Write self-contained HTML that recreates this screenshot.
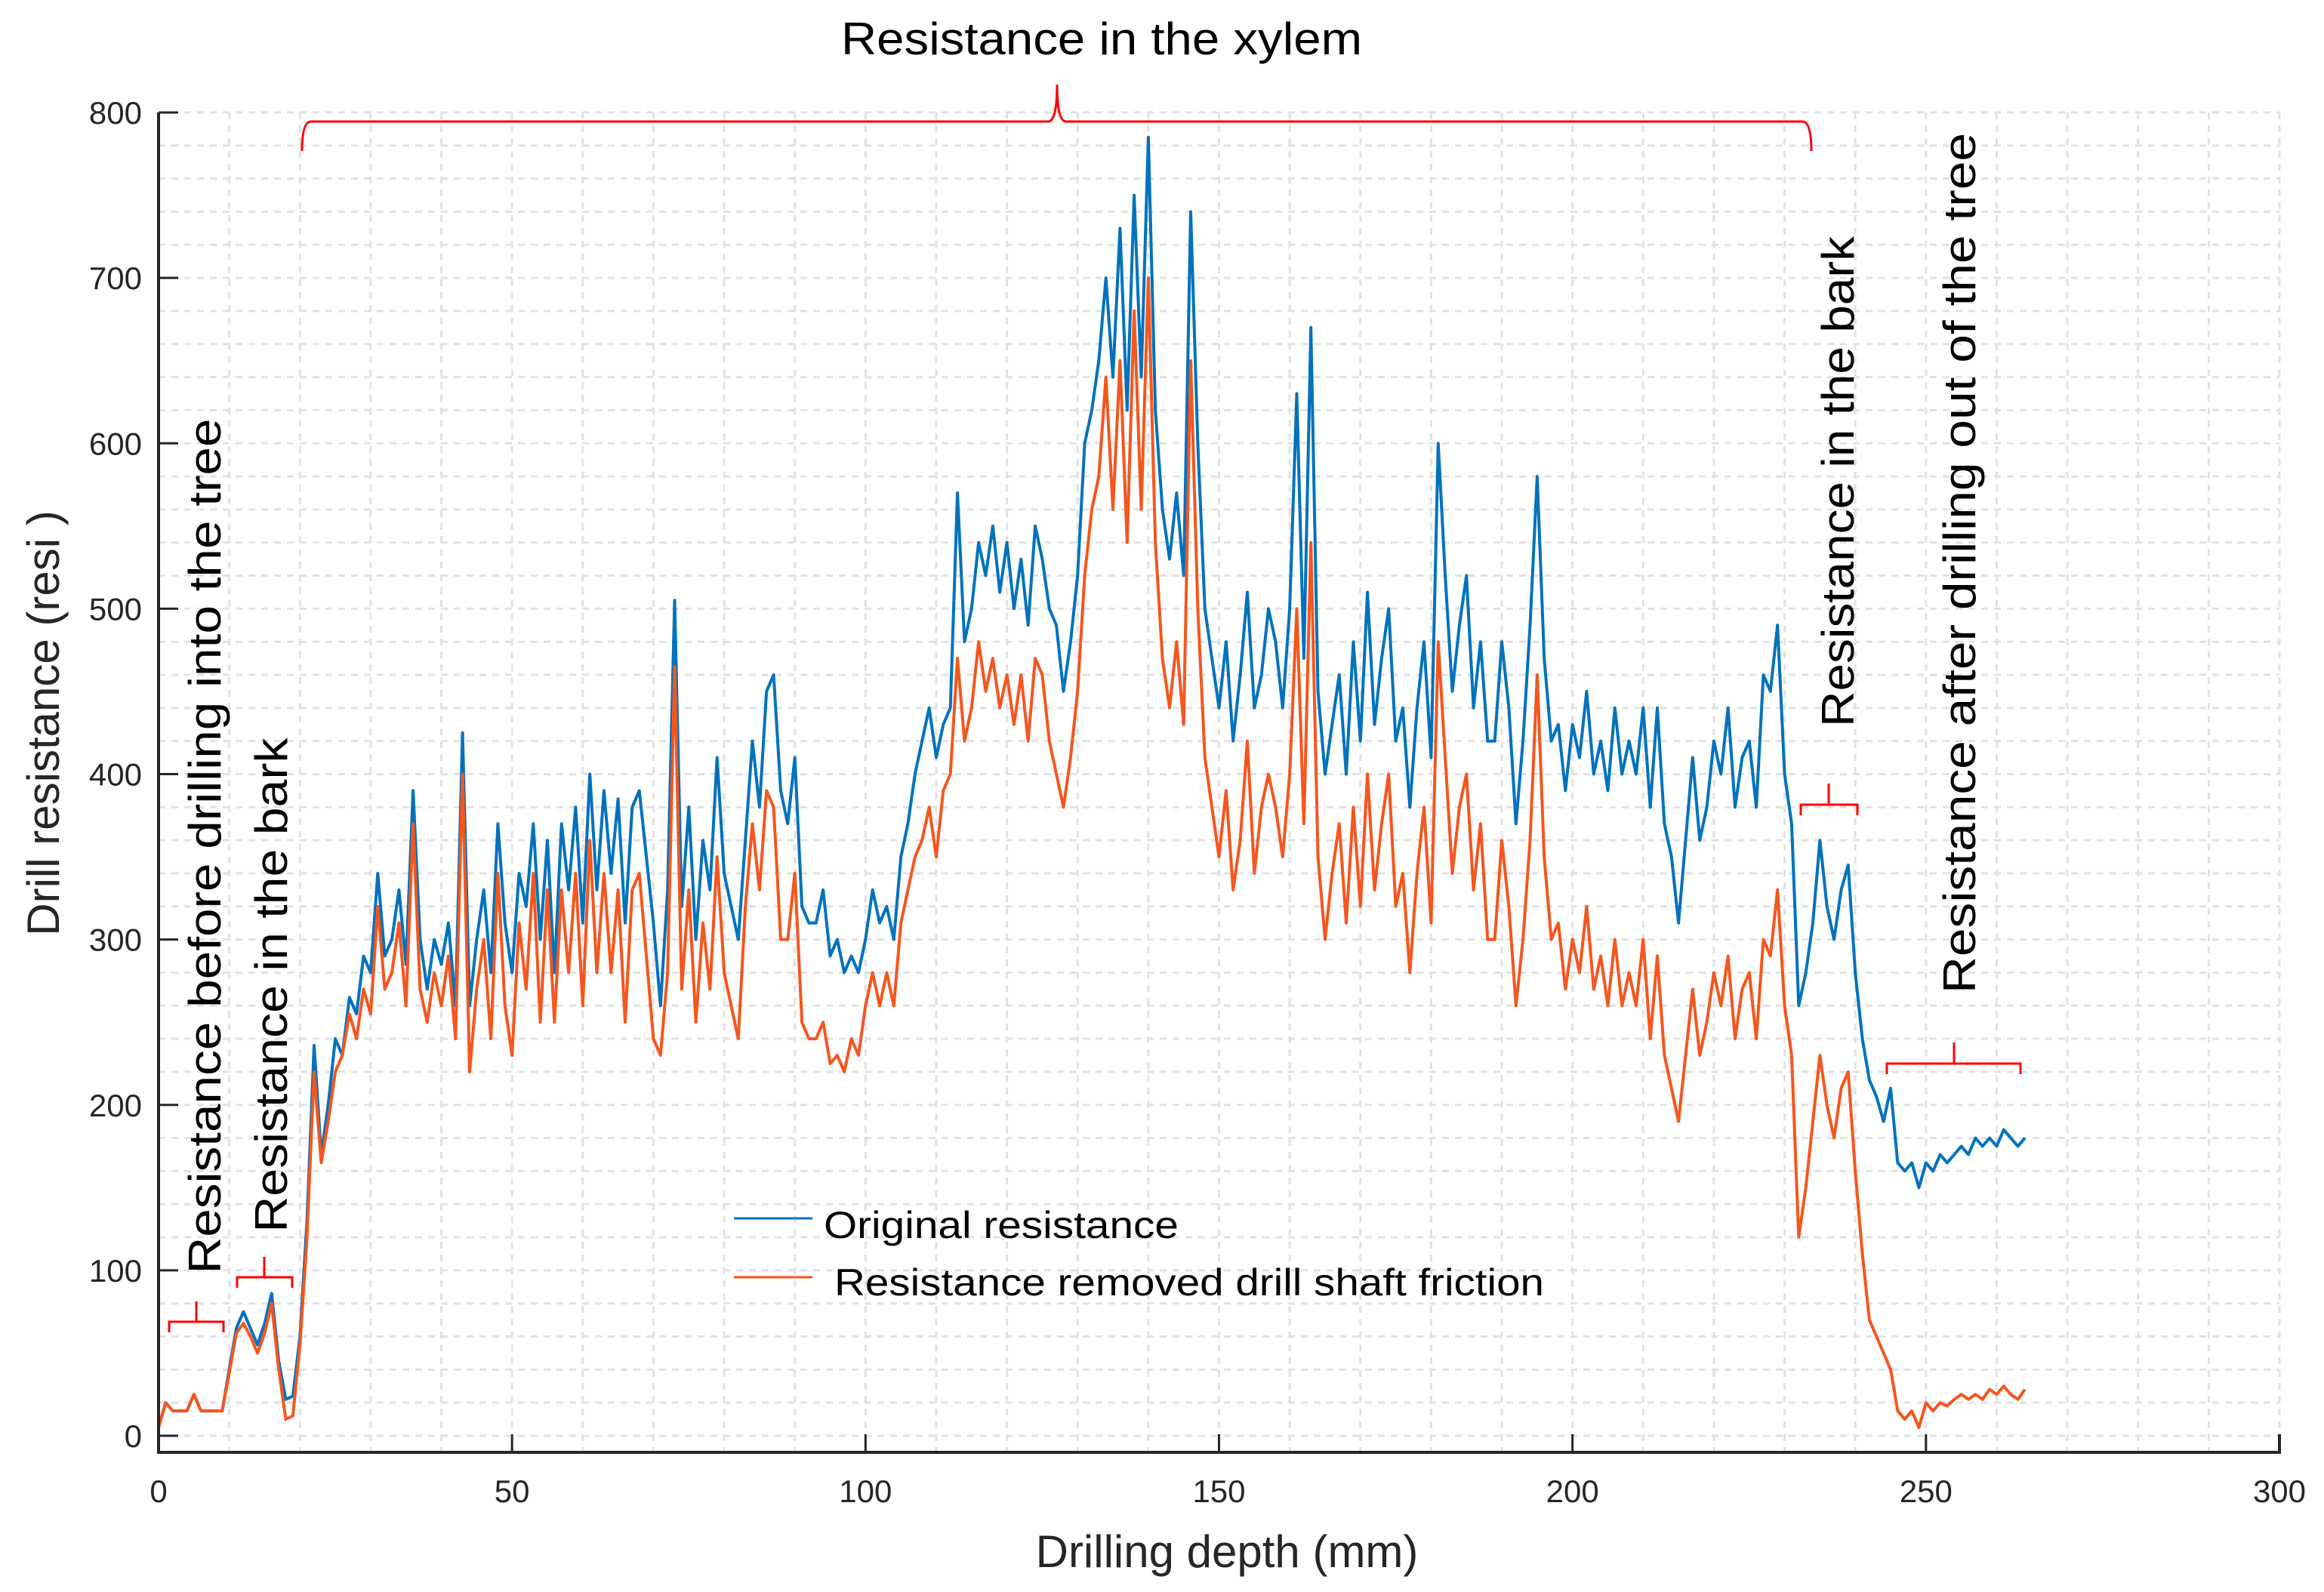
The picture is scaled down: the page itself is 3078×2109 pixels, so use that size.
<!DOCTYPE html>
<html><head><meta charset="utf-8"><style>
html,body{margin:0;padding:0;background:#fff;}
svg{display:block;}
text{font-family:"Liberation Sans",sans-serif;}
.ann{font-family:"Liberation Sans Narrow","Liberation Sans",sans-serif;font-size:60px;fill:#000;}
</style></head><body>
<svg id="chart" width="3078" height="2109" viewBox="0 0 3078 2109" xmlns="http://www.w3.org/2000/svg">
<g id="grid"></g>
<g id="series"></g>
<g id="axes"></g>
<g fill="none" stroke="#f00" stroke-width="3">
  <path d="M400,200 Q400,161 412,161 L1388,161 Q1400,161 1400,112 Q1400,161 1412,161 L2387,161 Q2399,161 2399,200"/>
  <path d="M224,1765 L224,1751 L296,1751 L296,1765 M260,1751 L260,1724"/>
  <path d="M314,1706 L314,1692 L387,1692 L387,1706 M350,1692 L350,1665"/>
  <path d="M2385,1080 L2385,1066 L2460,1066 L2460,1080 M2422,1066 L2422,1038"/>
  <path d="M2499,1423 L2499,1409 L2676,1409 L2676,1423 M2588,1409 L2588,1381"/>
</g>
<text class="ann" x="1459" y="72" text-anchor="middle" textLength="690" lengthAdjust="spacingAndGlyphs">Resistance in the xylem</text>
<text class="ann" transform="translate(292,1121) rotate(-90)" text-anchor="middle" textLength="1133" lengthAdjust="spacingAndGlyphs">Resistance before drilling into the tree</text>
<text class="ann" transform="translate(380,1305) rotate(-90)" text-anchor="middle" textLength="655" lengthAdjust="spacingAndGlyphs">Resistance in the bark</text>
<text class="ann" transform="translate(2455,638) rotate(-90)" text-anchor="middle" textLength="650" lengthAdjust="spacingAndGlyphs">Resistance in the bark</text>
<text class="ann" transform="translate(2616,746) rotate(-90)" text-anchor="middle" textLength="1140" lengthAdjust="spacingAndGlyphs">Resistance after drilling out of the tree</text>
<g>
  <line x1="972" y1="1614" x2="1076" y2="1614" stroke="#0072BD" stroke-width="3"/>
  <text x="1091" y="1640" font-size="50" fill="#000" textLength="470" lengthAdjust="spacingAndGlyphs">Original resistance</text>
  <line x1="972" y1="1692" x2="1076" y2="1692" stroke="#F5561E" stroke-width="3"/>
  <text x="1105" y="1716" font-size="50" fill="#000" textLength="940" lengthAdjust="spacingAndGlyphs">Resistance removed drill shaft friction</text>
</g>
<text x="1625" y="2076" font-size="60" fill="#262626" text-anchor="middle">Drilling depth (mm)</text>
<text transform="translate(78,958) rotate(-90)" font-size="60" fill="#262626" text-anchor="middle">Drill resistance (resi )</text>
</svg>
<script>
const xTicks=[0,50,100,150,200,250,300];
const yTicks=[0,100,200,300,400,500,600,700,800];
const original=[5,20,15,15,15,25,15,15,15,15,40,65,75,65,55,68,86,45,22,24,60,130,236,170,200,240,230,265,255,290,280,340,290,300,330,285,390,300,270,300,285,310,260,425,260,300,330,280,370,310,280,340,320,370,300,360,280,370,330,380,310,400,330,390,340,385,310,380,390,350,310,260,330,505,320,380,300,360,330,410,340,320,300,360,420,380,450,460,390,370,410,320,310,310,330,290,300,280,290,280,300,330,310,320,300,350,370,400,420,440,410,430,440,570,480,500,540,520,550,510,540,500,530,490,550,530,500,490,450,480,520,600,620,650,700,640,730,620,750,640,785,620,560,530,570,520,740,600,500,470,440,480,420,460,510,440,460,500,480,440,500,630,470,670,450,400,430,460,400,480,420,510,430,470,500,420,440,380,440,480,410,600,520,450,490,520,440,480,420,420,480,440,370,420,490,580,470,420,430,390,430,410,450,400,420,390,440,400,420,400,440,380,440,370,350,310,360,410,360,380,420,400,440,380,410,420,380,460,450,490,400,370,260,280,310,360,320,300,330,345,280,240,215,205,190,210,165,160,165,150,165,160,170,165,170,175,170,180,175,180,175,185,180,175,180];
const removed=[5,20,15,15,15,25,15,15,15,15,38,62,68,60,50,62,80,40,10,12,55,120,220,165,190,220,230,255,240,270,255,320,270,280,310,260,370,270,250,280,260,290,240,400,220,270,300,240,340,260,230,310,270,340,250,330,250,330,280,340,260,360,280,340,280,330,250,330,340,290,240,230,280,465,270,330,250,310,270,350,280,260,240,320,370,330,390,380,300,300,340,250,240,240,250,225,230,220,240,230,260,280,260,280,260,310,330,350,360,380,350,390,400,470,420,440,480,450,470,440,460,430,460,420,470,460,420,400,380,410,450,520,560,580,640,560,650,540,680,560,700,540,470,440,480,430,650,500,410,380,350,390,330,360,420,340,380,400,380,350,400,500,370,540,350,300,340,370,310,380,320,400,330,370,400,320,340,280,340,380,310,480,410,340,380,400,330,370,300,300,360,320,260,300,360,460,350,300,310,270,300,280,320,270,290,260,300,260,280,260,300,240,290,230,210,190,230,270,230,250,280,260,290,240,270,280,240,300,290,330,260,230,120,150,190,230,200,180,210,220,160,110,70,60,50,40,15,10,15,5,20,15,20,18,22,25,22,25,22,28,25,30,25,22,28];
const depth=original.map((v,i)=>i);

const X0=210,X1=3019,Y0=1902,Y800=149,BOTTOM=1924;
const sx=v=>X0+(v/300)*(X1-X0);
const sy=v=>Y0-(v/800)*(Y0-Y800);
const NS='http://www.w3.org/2000/svg';
function mk(tag,attrs,parent){const e=document.createElementNS(NS,tag);for(const k in attrs)e.setAttribute(k,attrs[k]);parent.appendChild(e);return e;}
const grid=document.getElementById('grid'),axes=document.getElementById('axes'),ser=document.getElementById('series');
for(let v=10;v<=300;v+=10){
  const l=mk('line',{x1:sx(v),x2:sx(v),y1:Y800,y2:BOTTOM,stroke:'#e2e2e2','stroke-width':3,'stroke-dasharray':'9 8'},grid);
  
  
}
for(let v=0;v<=800;v+=20){
  const l=mk('line',{x1:X0,x2:X1,y1:sy(v),y2:sy(v),stroke:'#e2e2e2','stroke-width':3,'stroke-dasharray':'9 8'},grid);
  
  
}
function path(vals,color,name){
  let d='';vals.forEach((v,i)=>{d+=(i?'L':'M')+sx(depth[i]).toFixed(1)+','+sy(v).toFixed(1);});
  const p=mk('path',{d:d,fill:'none',stroke:color,'stroke-width':4,'stroke-linejoin':'round'},ser);
  
  
}
path(original,'#0072BD','original-resistance-line');
path(removed,'#F5561E','removed-friction-line');
const ax=mk('path',{d:`M${X0},${Y800} L${X0},${BOTTOM} L${X1},${BOTTOM} L${X1},${BOTTOM-24}`,fill:'none',stroke:'#262626','stroke-width':4},axes);


xTicks.forEach(v=>{
  const t=mk('line',{x1:sx(v),x2:sx(v),y1:BOTTOM,y2:BOTTOM-24,stroke:'#262626','stroke-width':3},axes);
  
  
  const tx=mk('text',{x:sx(v),y:1990,'font-size':42,fill:'#262626','text-anchor':'middle'},axes);
  tx.textContent=v;
  
  
});
yTicks.forEach(v=>{
  const t=mk('line',{x1:X0,x2:X0+26,y1:sy(v),y2:sy(v),stroke:'#262626','stroke-width':3},axes);
  
  
  const tx=mk('text',{x:188,y:sy(v)+15,'font-size':42,fill:'#262626','text-anchor':'end'},axes);
  tx.textContent=v;
  
  
});
</script>
</body></html>
